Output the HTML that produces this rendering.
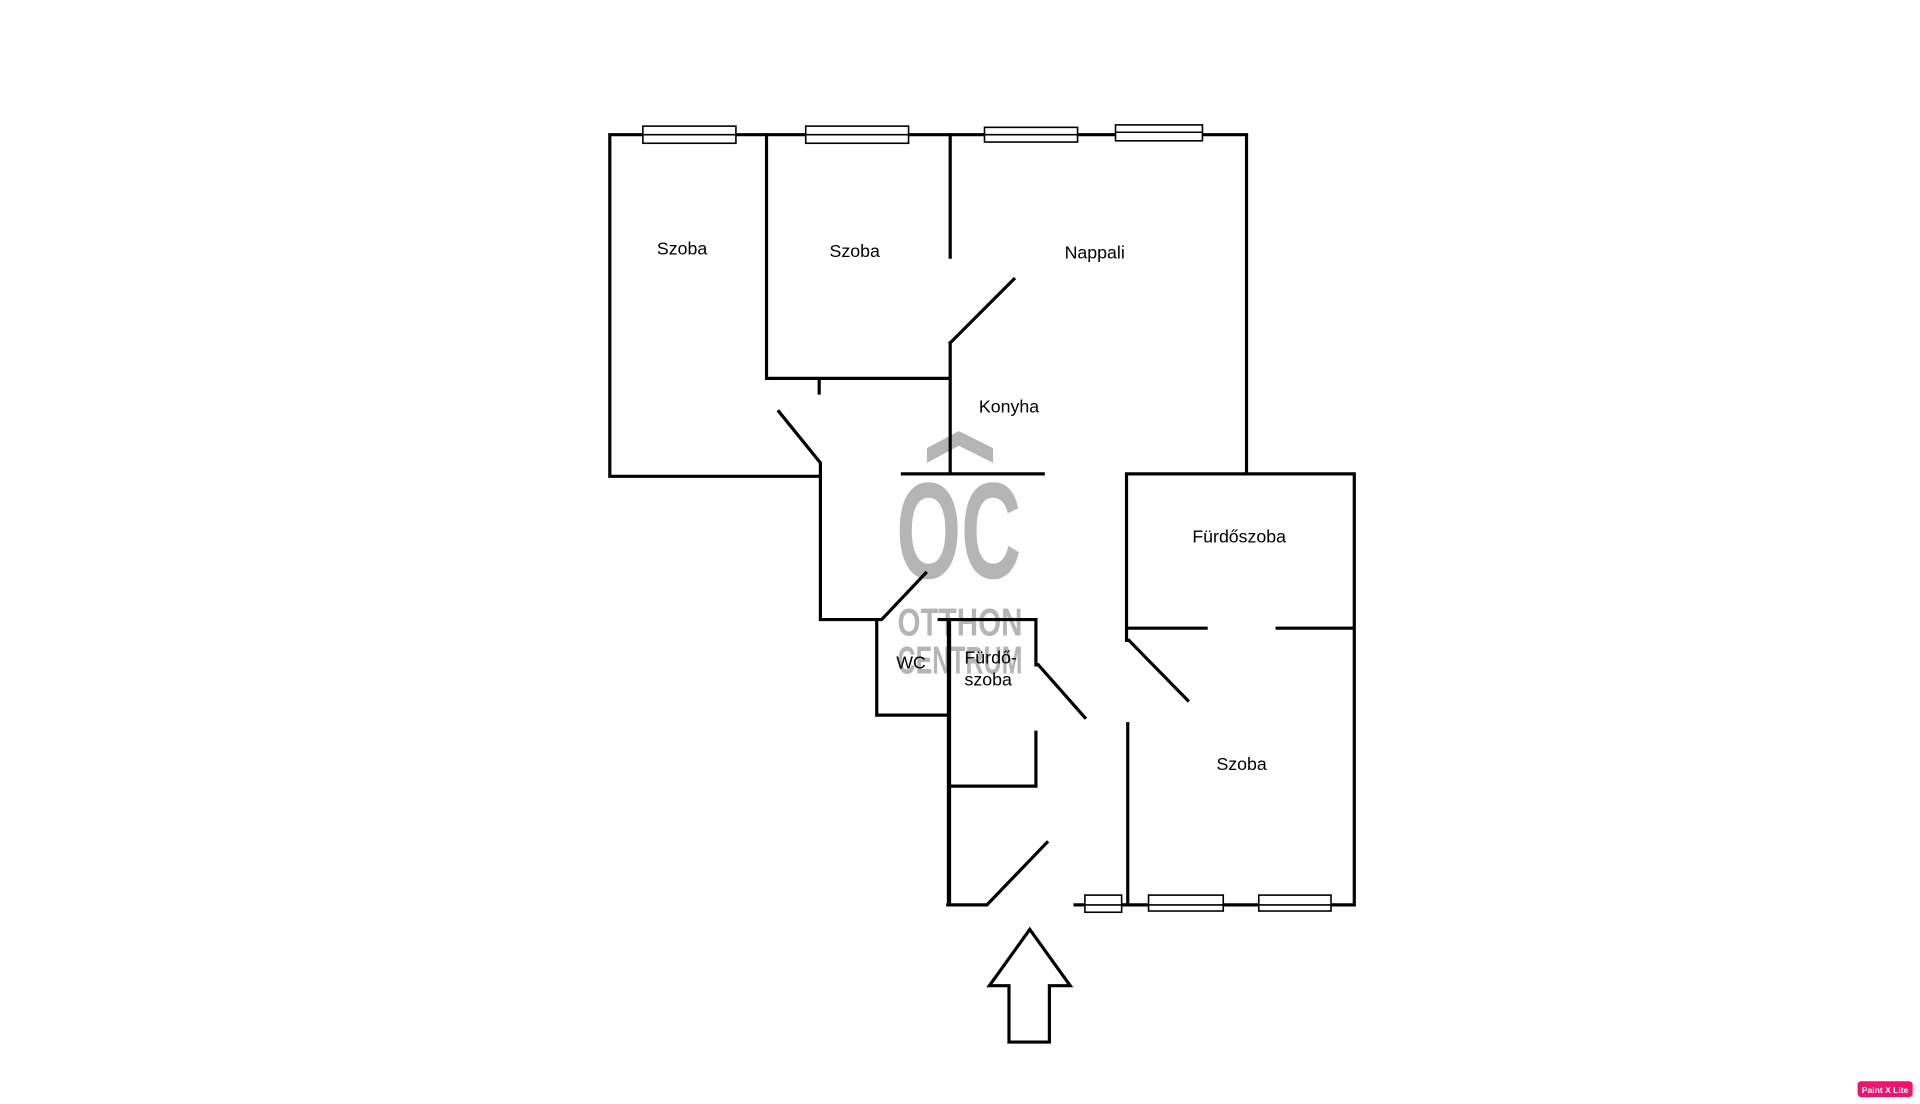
<!DOCTYPE html>
<html><head><meta charset="utf-8"><style>html,body{margin:0;padding:0;background:#fff}svg{display:block}</style></head>
<body>
<svg width="1920" height="1104" viewBox="0 0 1568 901.6" xmlns="http://www.w3.org/2000/svg">
<rect width="1568" height="901.6" fill="#fff"/>
<!-- watermark -->
<g fill="#b5b5b5" font-family="'Liberation Sans', 'DejaVu Sans Condensed', sans-serif" font-weight="bold">
<polygon points="757,366 783,352 811,366 811,378 783,364 757,378"/>
<text x="783" y="472" font-size="112" text-anchor="middle" textLength="102" lengthAdjust="spacingAndGlyphs">OC</text>
<text x="784" y="519" font-size="32" text-anchor="middle" textLength="102" lengthAdjust="spacingAndGlyphs">OTTHON</text>
<text x="784" y="550" font-size="32" text-anchor="middle" textLength="102" lengthAdjust="spacingAndGlyphs">CENTRUM</text>
</g>
<g stroke="#000" stroke-width="2.6" fill="none" stroke-linecap="square">
<path d="M498,110 H1018 V387 M498,110 V389 H670"/>
<path d="M626,110 V309 H776 M669,309 V321 M776,110 V210 M776,280 V387 M776,280 L828,228"/>
<path d="M636,336 L670,378 V506 H720 L756,468"/>
<path d="M737,387 H852"/>
<path d="M920,387 H1106 V739 H878 M920,387 V523 M920,513 H985 M1043,513 H1106 M922,523 L970,572 M921,591 V739"/>
<path d="M716,506 V584 H774 M767,506 H846 V543 M848,543 L886,586 M846,598 V642 H776"/>
<path d="M774,739 H806 L855,688"/>
</g>
<path d="M775,506 V739" stroke="#000" stroke-width="3.5"/>
<g stroke="#000" stroke-width="1.3" fill="#fff">
<rect x="525" y="103" width="76" height="14"/><line x1="525" y1="110" x2="601" y2="110"/>
<rect x="658" y="103" width="84" height="14"/><line x1="658" y1="110" x2="742" y2="110"/>
<rect x="804" y="104" width="76" height="12"/><line x1="804" y1="110" x2="880" y2="110"/>
<rect x="911" y="102" width="71" height="13"/><line x1="911" y1="108" x2="982" y2="108"/>
<rect x="886" y="731" width="30" height="14"/><line x1="886" y1="739" x2="916" y2="739"/>
<rect x="938" y="731" width="61" height="13"/><line x1="938" y1="739" x2="999" y2="739"/>
<rect x="1028" y="731" width="59" height="13"/><line x1="1028" y1="739" x2="1087" y2="739"/>
</g>
<polygon points="841,759 874,805 857,805 857,851 824,851 824,805 808,805" fill="#fff" stroke="#000" stroke-width="2.6" stroke-linejoin="miter"/>
<g font-family="'Liberation Sans', sans-serif" font-size="14.5" fill="#000" text-anchor="middle">
<text x="557" y="208">Szoba</text>
<text x="698" y="210">Szoba</text>
<text x="894" y="211">Nappali</text>
<text x="824" y="337">Konyha</text>
<text x="1012" y="443">Fürdőszoba</text>
<text x="744" y="546">WC</text>
<text x="809" y="542">Fürdő-</text>
<text x="807" y="560">szoba</text>
<text x="1014" y="629">Szoba</text>
</g>
<rect x="1517" y="883" width="45" height="13" rx="3" fill="#f0146e"/>
<text x="1539.5" y="892.5" font-family="'Liberation Sans', sans-serif" font-size="7" font-weight="bold" fill="#fff" text-anchor="middle">Paint X Lite</text>
</svg>
</body></html>
